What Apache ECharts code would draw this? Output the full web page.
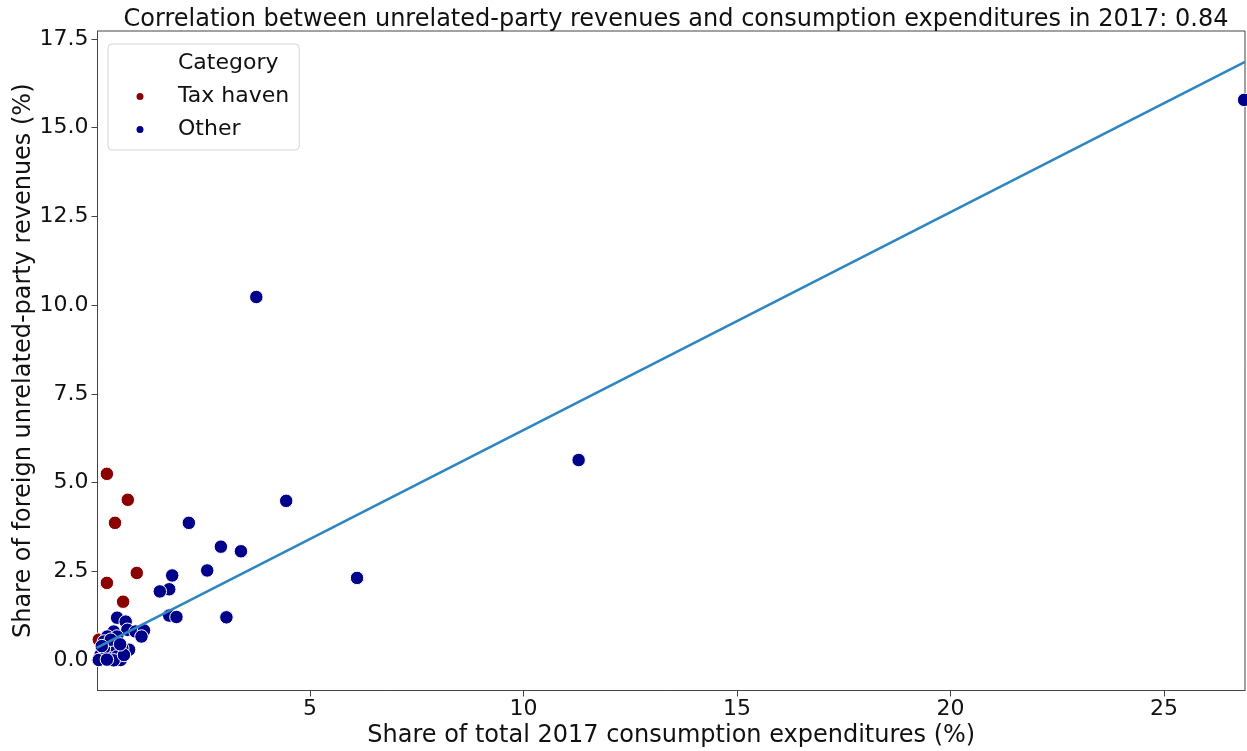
<!DOCTYPE html>
<html>
<head>
<meta charset="utf-8">
<script src="https://cdn.jsdelivr.net/npm/echarts@6/dist/echarts.min.js"></script>
<style>
  html, body { margin: 0; padding: 0; background: #fff; }
  #chartEle { width: 1247px; height: 751px; }
</style>
</head>
<body>
<div id="chartEle"></div>
<script>
// share of 2017 consumption expenditures (%), share of unrelated-party revenues (%)
var taxHavenPoints = [
    [0.24, 5.25], [0.73, 4.52], [0.43, 3.87], [0.24, 2.18],
    [0.94, 2.46], [0.62, 1.65], [0.05, 0.58]
];
var otherPoints = [
    [26.88, 15.78], [3.74, 10.23], [11.29, 5.64], [4.44, 4.49], [2.16, 3.87],
    [2.91, 3.20], [3.38, 3.07], [2.59, 2.53], [6.10, 2.32], [1.77, 2.39],
    [1.70, 2.00], [1.48, 1.94], [1.70, 1.26], [1.87, 1.22], [3.04, 1.21],
    [0.48, 1.20], [0.68, 1.09], [0.72, 0.86], [0.40, 0.81], [0.25, 0.67],
    [0.48, 0.67], [0.91, 0.81], [1.11, 0.84], [1.05, 0.67], [0.17, 0.53],
    [0.36, 0.48], [0.76, 0.30], [0.60, 0.34], [0.33, 0.25], [0.09, 0.15],
    [0.29, 0.06], [0.48, 0.11], [0.56, 0.01], [0.05, 0.01], [0.40, 0.00],
    [0.17, 0.34], [0.64, 0.15], [0.24, 0.02], [0.33, 0.58], [0.12, 0.40],
    [0.55, 0.45]
];
// fitted regression line, two ends
var fitLine = [[0, 0.35], [26.9, 16.85]];

var xTicks = [5, 10, 15, 20, 25];
var yTicks = [0, 2.5, 5, 7.5, 10, 12.5, 15, 17.5];

var titleText = "Correlation between unrelated-party revenues and consumption expenditures in 2017: 0.84";
var xName = "Share of total 2017 consumption expenditures (%)";
var yName = "Share of foreign unrelated-party revenues (%)";

var fontName = "DejaVu Sans";
var myChart = echarts.init(document.getElementById("chartEle"));

var option = {
    animation: false,
    textStyle: { fontFamily: fontName },
    title: {
        text: titleText,
        left: 671,
        top: 3,
        textAlign: 'center',
        textStyle: { fontFamily: fontName, fontSize: 24, fontWeight: 'normal', color: '#111' }
    },
    legend: {
        orient: 'vertical',
        left: 108,
        top: 44,
        padding: [7, 10, 8, 4],
        itemGap: 8,
        itemWidth: 56,
        itemHeight: 9,
        backgroundColor: '#fff',
        borderColor: '#d5d5d5',
        borderWidth: 1,
        borderRadius: 4,
        selectedMode: false,
        textStyle: { fontFamily: fontName, fontSize: 22, color: '#111', lineHeight: 25, padding: [0, 0, 0, 5] },
        data: [
            { name: 'Category', icon: 'none' },
            { name: 'Tax haven', icon: 'circle' },
            { name: 'Other', icon: 'circle' }
        ]
    },
    grid: {
        left: 97.5,
        right: 2,
        top: 31,
        bottom: 60.5,
        show: true,
        borderColor: '#444',
        borderWidth: 1,
        containLabel: false,
        outerBoundsMode: 'none'
    },
    xAxis: {
        type: 'value',
        min: 0.02,
        max: 26.9,
        name: xName,
        nameLocation: 'middle',
        nameGap: 33,
        nameMoveOverlap: false,
        nameTextStyle: { fontFamily: fontName, fontSize: 24, color: '#111' },
        axisLine: { show: true, onZero: false, lineStyle: { color: '#444' } },
        axisTick: { show: true, length: 6, lineStyle: { color: '#444' }, customValues: xTicks },
        axisLabel: { fontFamily: fontName, fontSize: 22, color: '#111', margin: 8, customValues: xTicks },
        splitLine: { show: false }
    },
    yAxis: {
        type: 'value',
        min: -0.85,
        max: 17.72,
        name: yName,
        nameLocation: 'middle',
        nameRotate: 90,
        nameGap: 62,
        nameMoveOverlap: false,
        nameTextStyle: { fontFamily: fontName, fontSize: 24, color: '#111' },
        axisLine: { show: true, onZero: false, lineStyle: { color: '#444' } },
        axisTick: { show: true, length: 6, lineStyle: { color: '#444' }, customValues: yTicks },
        axisLabel: {
            fontFamily: fontName, fontSize: 22, color: '#111', margin: 9, customValues: yTicks,
            formatter: function (v) { return v.toFixed(1); }
        },
        splitLine: { show: false }
    },
    series: [
        { name: 'Category', type: 'scatter', data: [] },
        {
            name: 'Tax haven',
            type: 'scatter',
            symbolSize: 13.5,
            itemStyle: { color: '#8b0000', borderColor: '#fff', borderWidth: 1, opacity: 1 },
            data: taxHavenPoints,
            z: 2
        },
        {
            name: 'Other',
            type: 'scatter',
            symbolSize: 13.5,
            itemStyle: { color: '#00008b', borderColor: '#fff', borderWidth: 1, opacity: 1 },
            data: otherPoints,
            z: 3
        },
        {
            name: 'fit',
            type: 'line',
            data: fitLine,
            showSymbol: false,
            symbol: 'none',
            lineStyle: { color: '#2e86c1', width: 2.6 },
            z: 4
        }
    ]
};

myChart.setOption(option, true);
</script>
</body>
</html>
